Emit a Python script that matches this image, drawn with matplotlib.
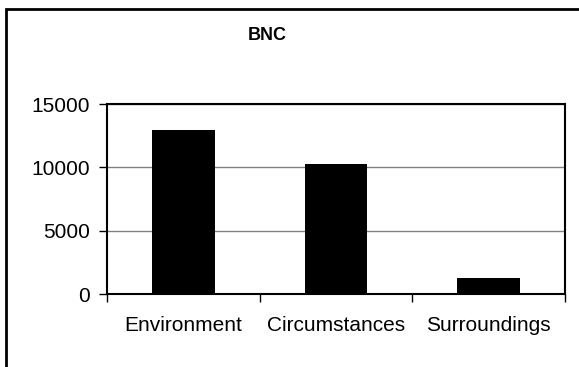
import matplotlib
matplotlib.use("Agg")
import matplotlib.pyplot as plt
from matplotlib.patches import Rectangle

# data
categories = ["Environment", "Circumstances", "Surroundings"]
counts = [12950, 10250, 1250]
y_ticks = [0, 5000, 10000, 15000]

plt.rcParams["font.family"] = ["Liberation Sans", "DejaVu Sans"]

W, H = 579, 367
fig = plt.figure(figsize=(W / 100, H / 100), dpi=100)

# outer chart border (runs off the right and bottom of the picture)
fig.patches.append(Rectangle((6 / W, 0 - 0.1), 1.2, (H - 9) / H + 0.1,
                             transform=fig.transFigure, fill=False,
                             edgecolor="black", linewidth=2))

ax = fig.add_axes([107 / W, (H - 294) / H, (565 - 107) / W, (294 - 104) / H])
x = list(range(len(categories)))
ax.bar(x, counts, width=0.41, color="black", zorder=3)

ax.set_xlim(-0.5, len(categories) - 0.5)
ax.set_ylim(0, 15000)
ax.set_yticks(y_ticks)
ax.set_yticklabels([str(v) for v in y_ticks], fontsize=15)
ax.yaxis.grid(True, color="#808080", linewidth=1, zorder=0)

# category ticks sit at the boundaries, labels in the middle
ax.set_xticks([i - 0.5 for i in range(len(categories) + 1)])
ax.set_xticklabels([])
ax.set_xticks(x, minor=True)
ax.set_xticklabels(categories, minor=True, fontsize=15)
ax.tick_params(axis="x", which="major", length=6, width=1, direction="out")
ax.tick_params(axis="x", which="minor", length=0, pad=16)
ax.tick_params(axis="y", length=6, width=1, pad=6)

for s in ax.spines.values():
    s.set_linewidth(1.5)
    s.set_color("black")

fig.text(267 / W, 1 - 36 / H, "BNC", ha="center", va="center",
         fontsize=13, fontweight="bold")

fig.savefig("out.png", dpi=100)
